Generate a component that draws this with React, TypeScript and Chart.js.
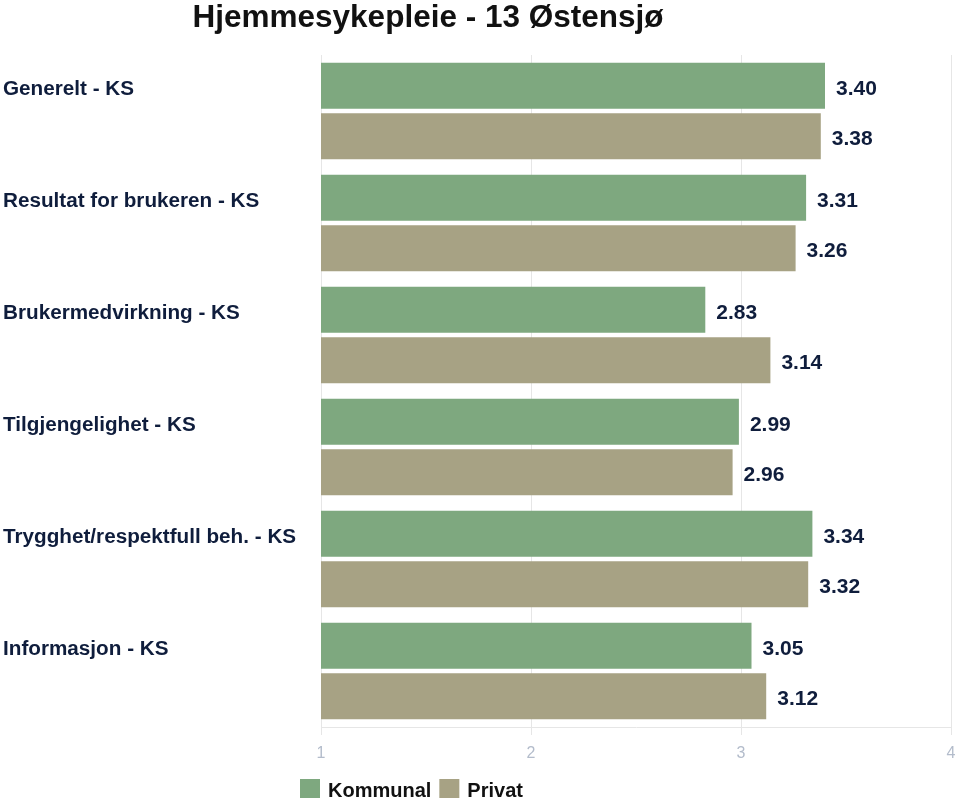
import React, { useEffect, useRef } from "react";
import { Chart, registerables } from "chart.js";

Chart.register(...registerables);

const TITLE = "Hjemmesykepleie - 13 Østensjø";
const categories = [
  "Generelt - KS",
  "Resultat for brukeren - KS",
  "Brukermedvirkning - KS",
  "Tilgjengelighet - KS",
  "Trygghet/respektfull beh. - KS",
  "Informasjon - KS",
];
const seriesNames = ["Kommunal", "Privat"];
const kommunal = [3.4, 3.31, 2.83, 2.99, 3.34, 3.05];
const privat = [3.38, 3.26, 3.14, 2.96, 3.32, 3.12];
const xMin = 1;
const xMax = 4;

const GREEN = "#7ea87f";
const TAN = "#a7a284";
const NAVY = "#0f1d3c";
const FONT = "'Liberation Sans', Arial, Helvetica, sans-serif";

const overlayPlugin = {
  id: "overlay",
  afterDatasetsDraw(chart: any) {
    const ctx = chart.ctx;
    ctx.save();
    ctx.textBaseline = "middle";
    ctx.textAlign = "left";
    ctx.fillStyle = NAVY;
    // value labels
    ctx.font = `bold 21px ${FONT}`;
    chart.data.datasets.forEach((ds: any, di: number) => {
      const meta = chart.getDatasetMeta(di);
      meta.data.forEach((el: any, i: number) => {
        ctx.fillText(Number(ds.data[i]).toFixed(2), el.x + 11, el.y + 3);
      });
    });
    // category labels aligned to first bar
    ctx.font = `bold 20.7px ${FONT}`;
    const meta0 = chart.getDatasetMeta(0);
    chart.data.labels.forEach((lab: string, i: number) => {
      const el = meta0.data[i];
      ctx.fillText(lab, 3, el.y + 3);
    });
    // title
    ctx.font = `bold 31.5px ${FONT}`;
    ctx.fillStyle = "#111111";
    ctx.textAlign = "center";
    ctx.fillText(TITLE, 428, 18);
    // legend
    ctx.font = `bold 20px ${FONT}`;
    ctx.textAlign = "left";
    let x = 300;
    const y = 789;
    chart.data.datasets.forEach((ds: any) => {
      ctx.fillStyle = ds.backgroundColor;
      ctx.fillRect(x, y - 10, 20, 19);
      ctx.fillStyle = "#111111";
      ctx.fillText(ds.label, x + 28, y + 2);
      x += 28 + ctx.measureText(ds.label).width + 8;
    });
    ctx.restore();
  },
};

export default function App() {
  const ref = useRef<HTMLCanvasElement | null>(null);
  useEffect(() => {
    if (!ref.current) return;
    const chart = new Chart(ref.current, {
      type: "bar",
      data: {
        labels: categories,
        datasets: [
          { label: seriesNames[0], data: kommunal, backgroundColor: GREEN },
          { label: seriesNames[1], data: privat, backgroundColor: TAN },
        ],
      },
      options: {
        indexAxis: "y",
        animation: false,
        responsive: false,
        maintainAspectRatio: false,
        layout: { padding: { left: 321, top: 55, right: 8, bottom: 0 } },
        datasets: { bar: { categoryPercentage: 0.9, barPercentage: 0.91 } },
        plugins: {
          legend: { display: false },
          title: { display: false },
          tooltip: { enabled: false },
        },
        scales: {
          x: {
            min: xMin,
            max: xMax,
            ticks: {
              stepSize: 1,
              color: "#b3bccb",
              font: { family: FONT, size: 16 },
              padding: 9,
            },
            grid: { color: "#e6e6e6", tickLength: 8 },
            border: { color: "#e6e6e6" },
            afterFit: (scale: any) => {
              scale.height = 75;
              scale.paddingRight = 0;
              scale.paddingLeft = 0;
            },
          },
          y: {
            display: false,
          },
        },
      },
      plugins: [overlayPlugin],
    });
    return () => chart.destroy();
  }, []);
  return (
    <div style={{ position: "fixed", left: 0, top: 0, width: 959, height: 802, background: "#fff" }}>
      <canvas ref={ref} width={959} height={802} style={{ display: "block" }} />
    </div>
  );
}
